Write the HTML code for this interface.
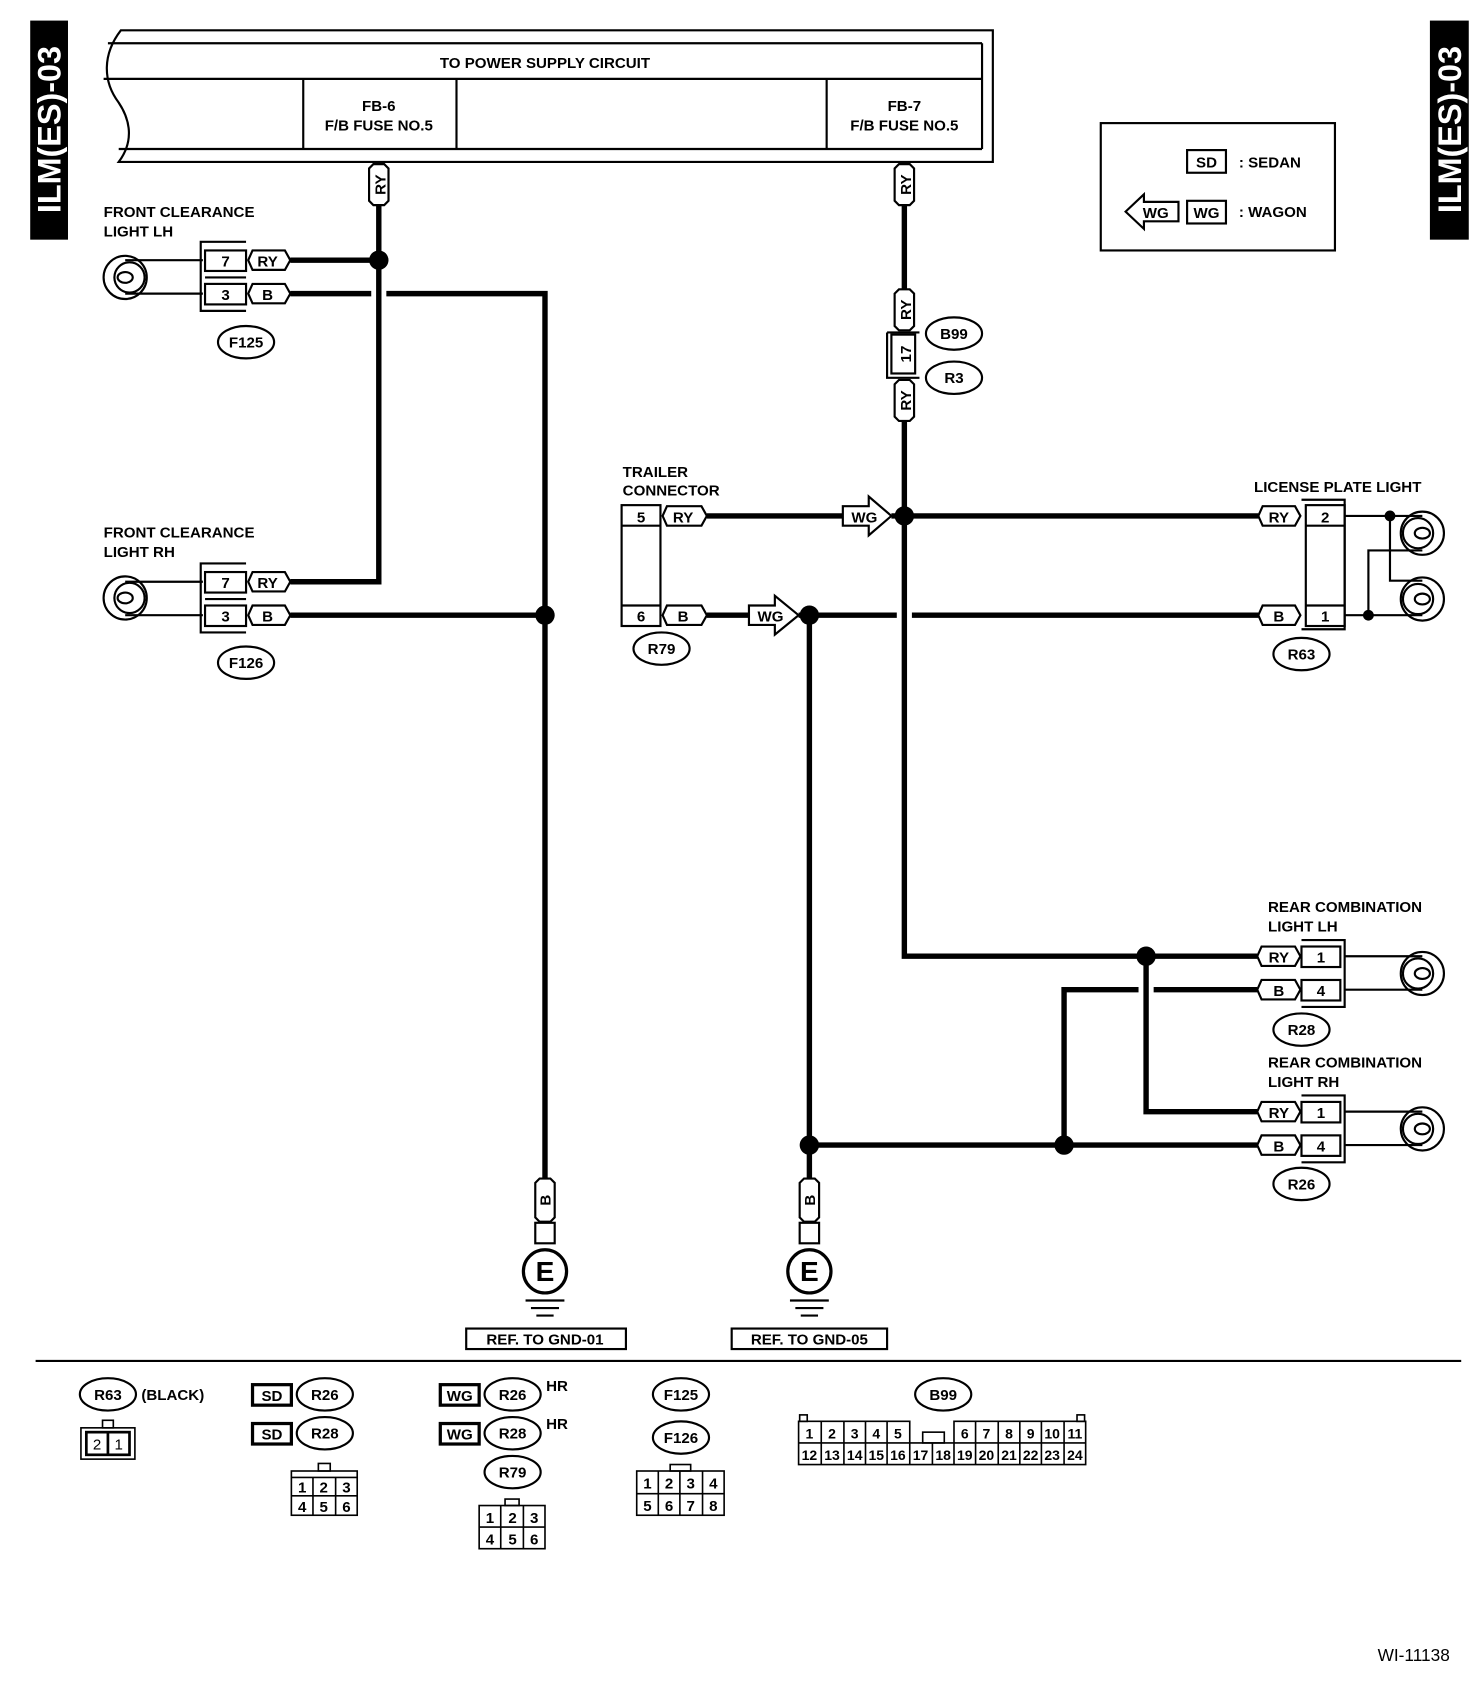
<!DOCTYPE html>
<html><head><meta charset="utf-8"><style>
html,body{margin:0;padding:0;background:#fff;}
svg{display:block;}
text{font-family:"Liberation Sans",Arial,sans-serif;font-weight:bold;fill:#000;}
</style></head><body>
<svg width="1472" height="1688" viewBox="0 0 1364 1564" xmlns="http://www.w3.org/2000/svg">
<g fill="none" stroke="#000" stroke-width="2">
<rect x="28" y="19" width="35" height="203" fill="#000" stroke="none"/>
<rect x="1325" y="19" width="36" height="203" fill="#000" stroke="none"/>
</g>
<text transform="translate(56,120) rotate(-90)" text-anchor="middle" style="fill:#fff;font-size:30px">ILM(ES)-03</text>
<text transform="translate(1354,120) rotate(-90)" text-anchor="middle" style="fill:#fff;font-size:30px">ILM(ES)-03</text>

<g fill="none" stroke="#000" stroke-width="2">
<path d="M112,28 L920,28 L920,150 L110,150 C125,130 120,110 110,95 C95,75 95,50 112,28 Z"/>
<line x1="100" y1="40" x2="910" y2="40"/><line x1="910" y1="40" x2="910" y2="138"/>
<line x1="96" y1="73" x2="910" y2="73"/>
<line x1="110" y1="138" x2="910" y2="138"/>
<line x1="281" y1="73" x2="281" y2="138"/><line x1="423" y1="73" x2="423" y2="138"/><line x1="766" y1="73" x2="766" y2="138"/>

<rect x="1020" y="114" width="217" height="118"/>
<rect x="1100" y="139" width="36" height="21"/>
<rect x="1100" y="186" width="36" height="21"/>
<path d="M1043,196 L1060,180 L1060,187 L1092,187 L1092,205 L1060,205 L1060,212 Z"/>

<g><circle cx="116" cy="257" r="20"/><circle cx="120" cy="257" r="14"/><ellipse cx="116" cy="257" rx="7" ry="5"/><line x1="116" y1="241" x2="188" y2="241"/><line x1="116" y1="272" x2="188" y2="272"/></g>
<g><circle cx="116" cy="554" r="20"/><circle cx="120" cy="554" r="14"/><ellipse cx="116" cy="554" rx="7" ry="5"/><line x1="116" y1="539" x2="188" y2="539"/><line x1="116" y1="570" x2="188" y2="570"/></g>
<g><circle cx="1318" cy="494" r="20"/><circle cx="1314" cy="494" r="14"/><ellipse cx="1318" cy="494" rx="7" ry="5"/></g>
<g><circle cx="1318" cy="555" r="20"/><circle cx="1314" cy="555" r="14"/><ellipse cx="1318" cy="555" rx="7" ry="5"/></g>
<g><circle cx="1318" cy="902" r="20"/><circle cx="1314" cy="902" r="14"/><ellipse cx="1318" cy="902" rx="7" ry="5"/><line x1="1246" y1="886" x2="1318" y2="886"/><line x1="1246" y1="917" x2="1318" y2="917"/></g>
<g><circle cx="1318" cy="1046" r="20"/><circle cx="1314" cy="1046" r="14"/><ellipse cx="1318" cy="1046" rx="7" ry="5"/><line x1="1246" y1="1030" x2="1318" y2="1030"/><line x1="1246" y1="1061" x2="1318" y2="1061"/></g>
<polyline points="1246,478 1318,478"/>
<polyline points="1288,478 1288,538 1318,538"/>
<polyline points="1246,570 1318,570"/>
<polyline points="1268,570 1268,510 1318,510"/>

<path d="M228,224 L186,224 L186,288 L228,288"/><rect x="190" y="232" width="38" height="19"/><rect x="190" y="263" width="38" height="19"/><line x1="190" y1="257" x2="228" y2="257"/>
<path d="M228,522 L186,522 L186,586 L228,586"/><rect x="190" y="530" width="38" height="19"/><rect x="190" y="561" width="38" height="19"/><line x1="190" y1="555" x2="228" y2="555"/>
<rect x="576" y="468" width="36" height="112"/><line x1="576" y1="487" x2="612" y2="487"/><line x1="576" y1="561" x2="612" y2="561"/>
<path d="M1206,463 L1246,463 L1246,583 L1206,583"/><rect x="1210" y="468" width="36" height="112"/><line x1="1210" y1="487" x2="1246" y2="487"/><line x1="1210" y1="561" x2="1246" y2="561"/>
<path d="M1206,871 L1246,871 L1246,933 L1206,933"/><rect x="1206" y="877" width="36" height="19"/><rect x="1206" y="908" width="36" height="19"/>
<path d="M1206,1015 L1246,1015 L1246,1077 L1206,1077"/><rect x="1206" y="1021" width="36" height="19"/><rect x="1206" y="1052" width="36" height="19"/>
<path d="M822,308 L852,308 M822,308 L822,350 L852,350"/><rect x="826" y="310" width="22" height="36"/>

<path d="M234,232 L264,232 L269,241 L264,250 L234,250 L230,241 Z"/>
<path d="M234,263 L264,263 L269,272 L264,281 L234,281 L230,272 Z"/>
<path d="M234,530 L264,530 L269,539 L264,548 L234,548 L230,539 Z"/>
<path d="M234,561 L264,561 L269,570 L264,579 L234,579 L230,570 Z"/>
<path d="M618,469 L650,469 L655,478 L650,487 L618,487 L614,478 Z"/>
<path d="M618,561 L650,561 L655,570 L650,579 L618,579 L614,570 Z"/>
<path d="M1170,469 L1200,469 L1205,478 L1200,487 L1170,487 L1166,478 Z"/>
<path d="M1170,561 L1200,561 L1205,570 L1200,579 L1170,579 L1166,570 Z"/>
<path d="M1169,877 L1200,877 L1205,886 L1200,895 L1169,895 L1165,886 Z"/>
<path d="M1169,908 L1200,908 L1205,917 L1200,926 L1169,926 L1165,917 Z"/>
<path d="M1169,1021 L1200,1021 L1205,1030 L1200,1039 L1169,1039 L1165,1030 Z"/>
<path d="M1169,1052 L1200,1052 L1205,1061 L1200,1070 L1169,1070 L1165,1061 Z"/>
<path d="M342,156 L346,152 L356,152 L360,156 L360,186 L356,190 L346,190 L342,186 Z"/>
<path d="M829,156 L833,152 L843,152 L847,156 L847,186 L843,190 L833,190 L829,186 Z"/>
<path d="M829,272 L833,268 L843,268 L847,272 L847,302 L843,306 L833,306 L829,302 Z"/>
<path d="M829,356 L833,352 L843,352 L847,356 L847,386 L843,390 L833,390 L829,386 Z"/>
<path d="M496,1096 L500,1092 L510,1092 L514,1096 L514,1128 L510,1132 L500,1132 L496,1128 Z"/>
<path d="M741,1096 L745,1092 L755,1092 L759,1096 L759,1128 L755,1132 L745,1132 L741,1128 Z"/>
<rect x="496" y="1133" width="18" height="19"/><rect x="741" y="1133" width="18" height="19"/>
<path d="M781,469 L805,469 L805,460 L826,478 L805,496 L805,487 L781,487 Z"/>
<path d="M694,561 L718,561 L718,552 L740,570 L718,588 L718,579 L694,579 Z"/>

<circle cx="505" cy="1178" r="20" stroke-width="3"/><circle cx="750" cy="1178" r="20" stroke-width="3"/>
<line x1="487" y1="1205" x2="523" y2="1205"/><line x1="492" y1="1212" x2="518" y2="1212"/><line x1="497" y1="1219" x2="513" y2="1219"/>
<line x1="732" y1="1205" x2="768" y2="1205"/><line x1="737" y1="1212" x2="763" y2="1212"/><line x1="742" y1="1219" x2="758" y2="1219"/>
<rect x="432" y="1231" width="148" height="19"/><rect x="678" y="1231" width="144" height="19"/>
<line x1="33" y1="1261" x2="1354" y2="1261"/>

<ellipse cx="228" cy="317" rx="26" ry="15"/><ellipse cx="228" cy="614" rx="26" ry="15"/>
<ellipse cx="884" cy="309" rx="26" ry="15"/><ellipse cx="884" cy="350" rx="26" ry="15"/>
<ellipse cx="613" cy="601" rx="26" ry="15"/><ellipse cx="1206" cy="606" rx="26" ry="15"/>
<ellipse cx="1206" cy="954" rx="26" ry="15"/><ellipse cx="1206" cy="1097" rx="26" ry="15"/>
<ellipse cx="100" cy="1292" rx="26" ry="15"/><ellipse cx="301" cy="1292" rx="26" ry="15"/><ellipse cx="301" cy="1328" rx="26" ry="15"/>
<ellipse cx="475" cy="1292" rx="26" ry="15"/><ellipse cx="475" cy="1328" rx="26" ry="15"/><ellipse cx="475" cy="1364" rx="26" ry="15"/>
<ellipse cx="631" cy="1292" rx="26" ry="15"/><ellipse cx="631" cy="1332" rx="26" ry="15"/><ellipse cx="874" cy="1292" rx="26" ry="15"/>
<rect x="234" y="1283" width="36" height="19" stroke-width="3"/><rect x="234" y="1319" width="36" height="19" stroke-width="3"/>
<rect x="408" y="1283" width="36" height="19" stroke-width="3"/><rect x="408" y="1319" width="36" height="19" stroke-width="3"/>
</g>

<g fill="none" stroke="#000" stroke-width="5">
<polyline points="351,190 351,539 269,539"/>
<line x1="269" y1="241" x2="351" y2="241"/>
<polyline points="269,272 344,272"/><polyline points="358,272 505,272 505,1092"/>
<line x1="269" y1="570" x2="505" y2="570"/>
<line x1="838" y1="190" x2="838" y2="268"/>
<polyline points="838,390 838,886 1165,886"/>
<line x1="655" y1="478" x2="781" y2="478"/><line x1="826" y1="478" x2="1166" y2="478"/>
<line x1="655" y1="570" x2="694" y2="570"/><line x1="740" y1="570" x2="831" y2="570"/><line x1="845" y1="570" x2="1166" y2="570"/>
<line x1="750" y1="570" x2="750" y2="1092"/>
<polyline points="1062,886 1062,1030 1165,1030"/>
<polyline points="1165,917 1069,917"/><polyline points="1055,917 986,917 986,1061"/>
<line x1="750" y1="1061" x2="1165" y2="1061"/>
</g>
<g fill="#000">
<circle cx="351" cy="241" r="9"/><circle cx="505" cy="570" r="9"/><circle cx="838" cy="478" r="9"/><circle cx="750" cy="570" r="9"/>
<circle cx="1062" cy="886" r="9"/><circle cx="986" cy="1061" r="9"/><circle cx="750" cy="1061" r="9"/>
<circle cx="1288" cy="478" r="5"/><circle cx="1268" cy="570" r="5"/>
</g>

<g fill="none" stroke="#000" stroke-width="1.5">
<rect x="75" y="1323" width="50" height="29"/><rect x="95" y="1316" width="10" height="7"/><rect x="80" y="1327" width="40" height="21" stroke-width="2.5"/><line x1="100" y1="1327" x2="100" y2="1348" stroke-width="2.5"/>
<rect x="270" y="1363" width="61" height="41"/><rect x="295" y="1356" width="11" height="7"/><line x1="270" y1="1369" x2="331" y2="1369"/><line x1="270" y1="1386" x2="331" y2="1386"/><line x1="290" y1="1369" x2="290" y2="1404"/><line x1="311" y1="1369" x2="311" y2="1404"/>
<rect x="444" y="1395" width="61" height="40"/><rect x="468" y="1389" width="13" height="6"/><line x1="444" y1="1415" x2="505" y2="1415"/><line x1="464" y1="1395" x2="464" y2="1435"/><line x1="485" y1="1395" x2="485" y2="1435"/>
<rect x="590" y="1363" width="81" height="41"/><rect x="621" y="1357" width="19" height="6"/><line x1="590" y1="1384" x2="671" y2="1384"/><line x1="610" y1="1363" x2="610" y2="1404"/><line x1="630" y1="1363" x2="630" y2="1404"/><line x1="651" y1="1363" x2="651" y2="1404"/>
<path d="M740,1337 L740,1317 L843,1317 L843,1337 M884,1337 L884,1317 L1006,1317 L1006,1357 L740,1357 L740,1337"/>
<rect x="855" y="1327" width="20" height="10"/>
<rect x="741" y="1311" width="7" height="6"/><rect x="998" y="1311" width="7" height="6"/>
<line x1="740" y1="1337" x2="1006" y2="1337"/>
<line x1="761" y1="1317" x2="761" y2="1357"/><line x1="782" y1="1317" x2="782" y2="1357"/><line x1="802" y1="1317" x2="802" y2="1357"/><line x1="822" y1="1317" x2="822" y2="1357"/><line x1="843" y1="1337" x2="843" y2="1357"/><line x1="864" y1="1337" x2="864" y2="1357"/><line x1="904" y1="1317" x2="904" y2="1357"/><line x1="925" y1="1317" x2="925" y2="1357"/><line x1="945" y1="1317" x2="945" y2="1357"/><line x1="965" y1="1317" x2="965" y2="1357"/><line x1="986" y1="1317" x2="986" y2="1357"/><line x1="884" y1="1337" x2="884" y2="1357"/>
</g>

<g style="font-size:14px" text-anchor="middle">
<text x="505" y="63">TO POWER SUPPLY CIRCUIT</text>
<text x="351" y="103">FB-6</text><text x="351" y="121">F/B FUSE NO.5</text>
<text x="838" y="103">FB-7</text><text x="838" y="121">F/B FUSE NO.5</text>
<text x="209" y="247">7</text><text x="209" y="278">3</text><text x="209" y="545">7</text><text x="209" y="576">3</text>
<text x="248" y="247">RY</text><text x="248" y="278">B</text><text x="248" y="545">RY</text><text x="248" y="576">B</text>
<text x="594" y="484">5</text><text x="594" y="576">6</text><text x="633" y="484">RY</text><text x="633" y="576">B</text>
<text x="1185" y="484">RY</text><text x="1185" y="576">B</text><text x="1228" y="484">2</text><text x="1228" y="576">1</text>
<text x="1185" y="892">RY</text><text x="1185" y="923">B</text><text x="1224" y="892">1</text><text x="1224" y="923">4</text>
<text x="1185" y="1036">RY</text><text x="1185" y="1067">B</text><text x="1224" y="1036">1</text><text x="1224" y="1067">4</text>
<text x="801" y="484">WG</text><text x="714" y="576">WG</text>
<text x="228" y="322">F125</text><text x="228" y="619">F126</text>
<text x="884" y="314">B99</text><text x="884" y="355">R3</text>
<text x="613" y="606">R79</text><text x="1206" y="611">R63</text><text x="1206" y="959">R28</text><text x="1206" y="1102">R26</text>
<text x="505" y="1246">REF. TO GND-01</text><text x="750" y="1246">REF. TO GND-05</text>
<text x="1118" y="155">SD</text><text x="1118" y="202">WG</text><text x="1071" y="202">WG</text>
<text x="100" y="1297">R63</text><text x="301" y="1297">R26</text><text x="301" y="1333">R28</text>
<text x="475" y="1297">R26</text><text x="475" y="1333">R28</text><text x="475" y="1369">R79</text>
<text x="631" y="1297">F125</text><text x="631" y="1337">F126</text><text x="874" y="1297">B99</text>
<text x="252" y="1298">SD</text><text x="252" y="1334">SD</text><text x="426" y="1298">WG</text><text x="426" y="1334">WG</text>
</g>
<g style="font-size:14px">
<text transform="translate(357,171) rotate(-90)" text-anchor="middle">RY</text>
<text transform="translate(844,171) rotate(-90)" text-anchor="middle">RY</text>
<text transform="translate(844,287) rotate(-90)" text-anchor="middle">RY</text>
<text transform="translate(844,328) rotate(-90)" text-anchor="middle">17</text>
<text transform="translate(844,371) rotate(-90)" text-anchor="middle">RY</text>
<text transform="translate(510,1112) rotate(-90)" text-anchor="middle">B</text>
<text transform="translate(755,1112) rotate(-90)" text-anchor="middle">B</text>
<text x="96" y="201">FRONT CLEARANCE</text><text x="96" y="219">LIGHT LH</text>
<text x="96" y="498">FRONT CLEARANCE</text><text x="96" y="516">LIGHT RH</text>
<text x="577" y="442">TRAILER</text><text x="577" y="459">CONNECTOR</text>
<text x="1162" y="456">LICENSE PLATE LIGHT</text>
<text x="1175" y="845">REAR COMBINATION</text><text x="1175" y="863">LIGHT LH</text>
<text x="1175" y="989">REAR COMBINATION</text><text x="1175" y="1007">LIGHT RH</text>
<text x="1148" y="155">: SEDAN</text><text x="1148" y="201">: WAGON</text>
<text x="131" y="1297">(BLACK)</text><text x="506" y="1289">HR</text><text x="506" y="1324">HR</text>
</g>
<text x="505" y="1187" text-anchor="middle" style="font-size:26px">E</text>
<text x="750" y="1187" text-anchor="middle" style="font-size:26px">E</text>
<g style="font-size:14px" text-anchor="middle">
<text x="90" y="1343" style="font-weight:normal">2</text><text x="110" y="1343" style="font-weight:normal">1</text>
<text x="280" y="1383">1</text><text x="300" y="1383">2</text><text x="321" y="1383">3</text><text x="280" y="1401">4</text><text x="300" y="1401">5</text><text x="321" y="1401">6</text>
<text x="454" y="1411">1</text><text x="475" y="1411">2</text><text x="495" y="1411">3</text><text x="454" y="1431">4</text><text x="475" y="1431">5</text><text x="495" y="1431">6</text>
<text x="600" y="1379">1</text><text x="620" y="1379">2</text><text x="640" y="1379">3</text><text x="661" y="1379">4</text><text x="600" y="1400">5</text><text x="620" y="1400">6</text><text x="640" y="1400">7</text><text x="661" y="1400">8</text>
<g style="font-size:13px">
<text x="750" y="1333">1</text><text x="771" y="1333">2</text><text x="792" y="1333">3</text><text x="812" y="1333">4</text><text x="832" y="1333">5</text><text x="894" y="1333">6</text><text x="914" y="1333">7</text><text x="935" y="1333">8</text><text x="955" y="1333">9</text><text x="975" y="1333">10</text><text x="996" y="1333">11</text>
<text x="750" y="1353">12</text><text x="771" y="1353">13</text><text x="792" y="1353">14</text><text x="812" y="1353">15</text><text x="832" y="1353">16</text><text x="853" y="1353">17</text><text x="874" y="1353">18</text><text x="894" y="1353">19</text><text x="914" y="1353">20</text><text x="935" y="1353">21</text><text x="955" y="1353">22</text><text x="975" y="1353">23</text><text x="996" y="1353">24</text>
</g>
<text x="1310" y="1539" style="font-size:16px;font-weight:normal">WI-11138</text>
</g>
</svg>
</body></html>
